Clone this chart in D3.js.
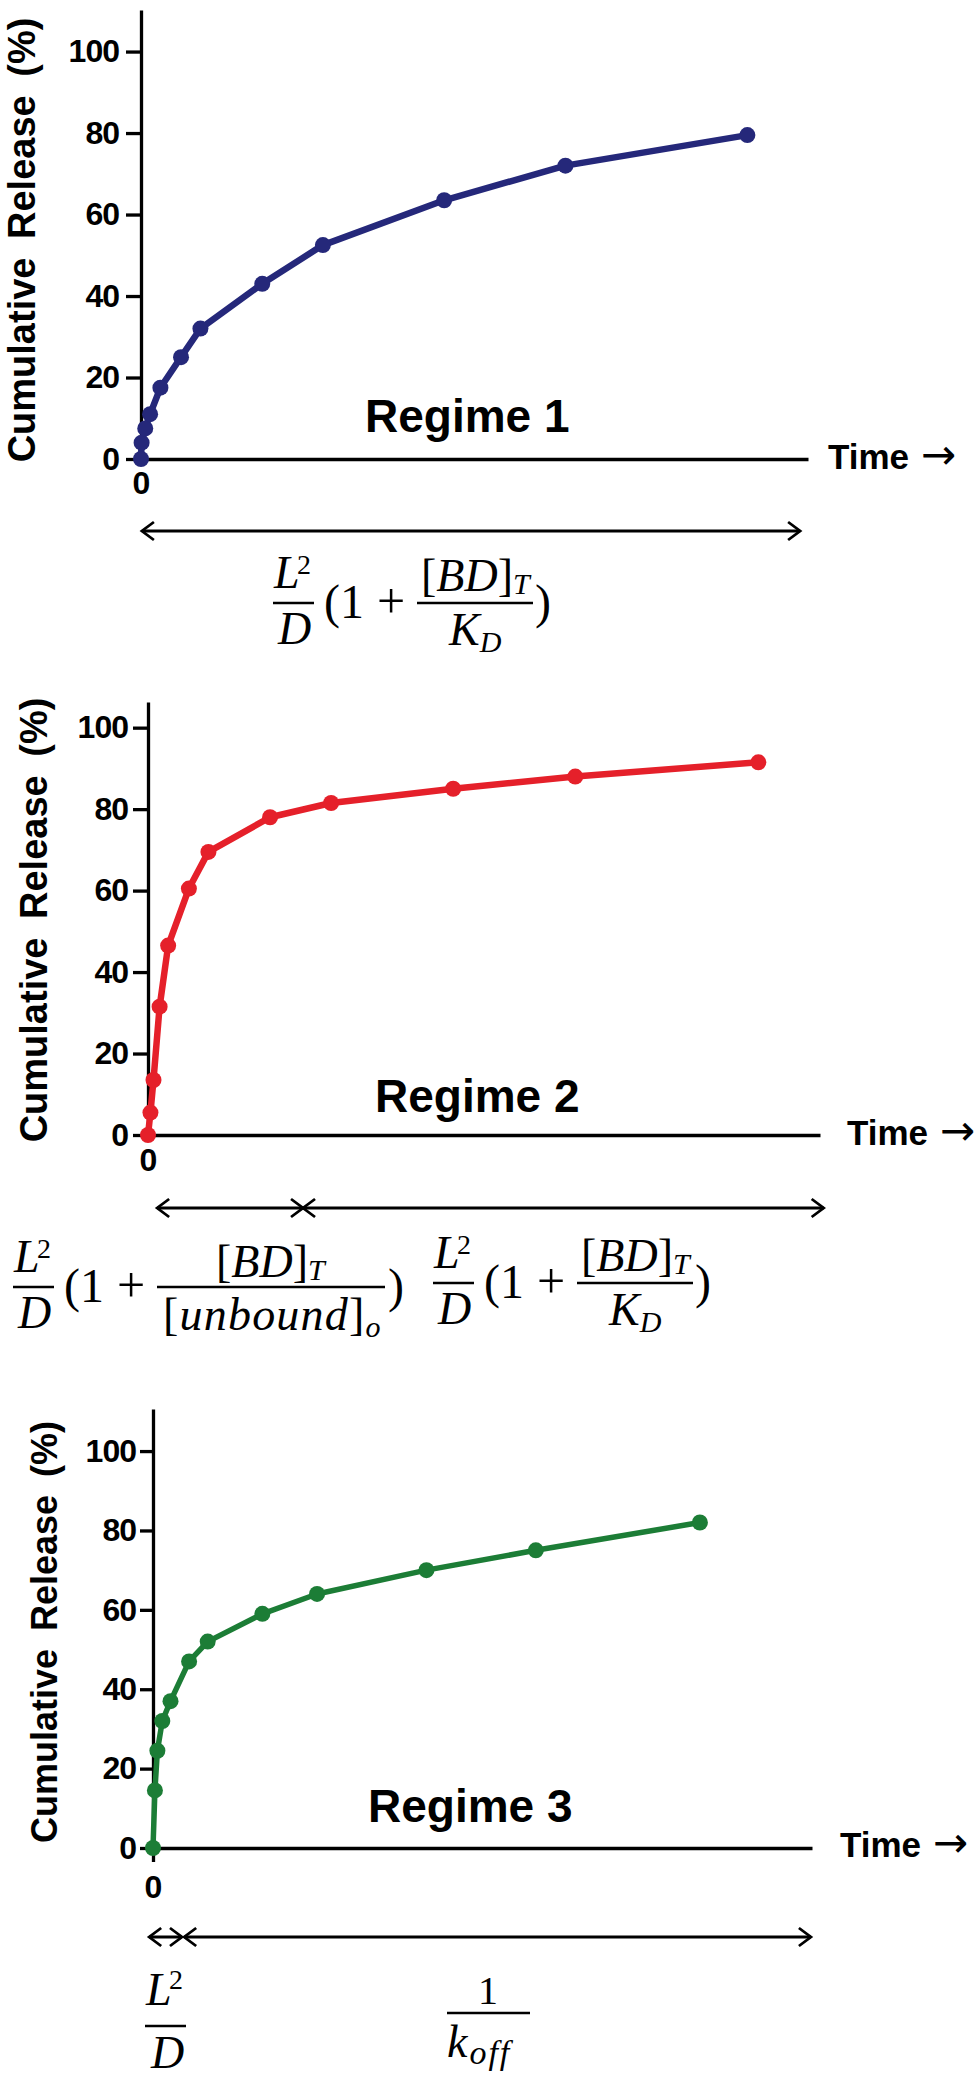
<!DOCTYPE html>
<html>
<head>
<meta charset="utf-8">
<script src="https://cdn.jsdelivr.net/npm/d3@7"></script>
<style>
  body { margin: 0; background: #fff; }
</style>
</head>
<body>
<div id="chart"></div>
<script>
// release curves (time in arbitrary units, release in %)
const times1 = [0, 0.1, 0.7, 1.5, 3.2, 6.6, 9.8, 20, 30, 50, 70, 100];
const release1 = [0, 4, 7.5, 11, 17.5, 25, 32, 43, 52.5, 63.5, 72, 79.5];
const times2 = [0, 0.4, 0.9, 1.9, 3.3, 6.7, 9.9, 20, 30, 50, 70, 100];
const release2 = [0, 5.5, 13.5, 31.5, 46.5, 60.5, 69.5, 78, 81.5, 85, 88, 91.5];
const times3 = [0, 0.35, 0.8, 1.7, 3.2, 6.6, 10, 20, 30, 50, 70, 100];
const release3 = [0, 14.5, 24.5, 32, 37, 47, 52, 59, 64, 70, 75, 82];
const yTicks = [0, 20, 40, 60, 80, 100];
const xTicks = [0];
const regimeNames = ["Regime 1", "Regime 2", "Regime 3"];
// time spans marked by the double arrows under each panel
const spans1 = [[0.15, 108.7]];
const spans2 = [[1.5, 25.4], [25.4, 110.7]];
const spans3 = [[-0.7, 5.3], [5.7, 120.3]];

// set the layout of the three panels
const panels = [
  {times: times1, values: release1, spans: spans1, color: "#25287a", name: regimeNames[0],
   left: 141, right: 808, top: 10, bottom: 459, xMax: 110, yMax: 110.2,
   tick: 15, pad: 7, xTick: 6, xPad: 6, lw: 6.5, r: 8,
   labelX: 35, labelY: 240, labelSize: 38, regimeX: 365, regimeY: 432, timeX: 828, timeY: 469, arrowY: 531},
  {times: times2, values: release2, spans: spans2, color: "#e5202a", name: regimeNames[1],
   left: 148, right: 820, top: 702, bottom: 1135, xMax: 110.1, yMax: 106.3,
   tick: 15, pad: 5, xTick: 6, xPad: 7, lw: 6.5, r: 8,
   labelX: 47, labelY: 920, labelSize: 38, regimeX: 375, regimeY: 1112, timeX: 847, timeY: 1145, arrowY: 1208},
  {times: times3, values: release3, spans: spans3, color: "#1c7d36", name: regimeNames[2],
   left: 153, right: 812, top: 1409, bottom: 1848, xMax: 120.5, yMax: 110.6,
   tick: 13, pad: 4, xTick: 14, xPad: 13, lw: 5.5, r: 8,
   labelX: 57, labelY: 1632, labelSize: 36, regimeX: 368, regimeY: 1822, timeX: 840, timeY: 1857, arrowY: 1937}
];

const svg = d3.select("#chart")
  .append("svg")
    .attr("width", 979)
    .attr("height", 2076);

const sans = "'Liberation Sans', Arial, sans-serif";
const serif = "'Liberation Serif', 'DejaVu Serif', serif";

panels.forEach(p => {
  const x = d3.scaleLinear().domain([0, p.xMax]).range([p.left, p.right]);
  const y = d3.scaleLinear().domain([0, p.yMax]).range([p.bottom, p.top]);
  const data = p.times.map((t, i) => ({t: t, v: p.values[i]}));
  const g = svg.append("g");

  // Y axis
  g.append("g")
    .attr("transform", `translate(${p.left},0)`)
    .call(d3.axisLeft(y).tickValues(yTicks).tickSize(p.tick).tickSizeOuter(0).tickPadding(p.pad))
    .call(a => a.selectAll("path,line").attr("stroke", "#000").attr("stroke-width", 3.3))
    .call(a => a.selectAll("text")
      .attr("font-family", sans).attr("font-size", 32).attr("font-weight", "bold")
      .attr("letter-spacing", -1).attr("fill", "#000"));

  // X axis
  g.append("g")
    .attr("transform", `translate(0,${p.bottom})`)
    .call(d3.axisBottom(x).tickValues(xTicks).tickSize(p.xTick).tickSizeOuter(0).tickPadding(p.xPad))
    .call(a => a.selectAll("path,line").attr("stroke", "#000").attr("stroke-width", 3.3))
    .call(a => a.selectAll("text")
      .attr("font-family", sans).attr("font-size", 32).attr("font-weight", "bold").attr("fill", "#000"));

  // Draw the line
  g.append("path")
    .datum(data)
    .attr("fill", "none")
    .attr("stroke", p.color)
    .attr("stroke-width", p.lw)
    .attr("stroke-linejoin", "round")
    .attr("d", d3.line().x(d => x(d.t)).y(d => y(d.v)));

  g.selectAll(".dot")
    .data(data)
    .join("circle")
      .attr("cx", d => x(d.t))
      .attr("cy", d => y(d.v))
      .attr("r", p.r)
      .attr("fill", p.color);

  // axis title
  g.append("text")
    .attr("transform", `translate(${p.labelX},${p.labelY}) rotate(-90)`)
    .attr("text-anchor", "middle")
    .attr("font-family", sans)
    .attr("font-weight", "bold")
    .attr("font-size", p.labelSize)
    .attr("word-spacing", 8)
    .text("Cumulative Release (%)");

  g.append("text")
    .attr("x", p.regimeX)
    .attr("y", p.regimeY)
    .attr("font-family", sans)
    .attr("font-weight", "bold")
    .attr("font-size", 46)
    .text(p.name);

  const tl = g.append("text")
    .attr("x", p.timeX)
    .attr("y", p.timeY)
    .attr("font-family", sans)
    .attr("font-size", 35);
  tl.append("tspan").attr("font-weight", "bold").text("Time");
  tl.append("tspan").attr("dx", 12).attr("font-family", "'DejaVu Sans', sans-serif")
    .attr("font-size", 42).attr("font-weight", "normal").text("\u2192");

  // double arrows for the time scales
  p.spans.forEach(s => {
    const x1 = x(s[0]), x2 = x(s[1]), ay = p.arrowY;
    g.append("line")
      .attr("x1", x1).attr("x2", x2).attr("y1", ay).attr("y2", ay)
      .attr("stroke", "#000").attr("stroke-width", 2.8);
    g.append("path")
      .attr("d", `M${x1 + 12},${ay - 9}L${x1},${ay}L${x1 + 12},${ay + 9}M${x2 - 12},${ay - 9}L${x2},${ay}L${x2 - 12},${ay + 9}`)
      .attr("fill", "none").attr("stroke", "#000").attr("stroke-width", 2.8);
  });
});

// formulas
function math(x, yb, pieces, size, anchor) {
  size = size || 46;
  const t = svg.append("text")
    .attr("x", x).attr("y", yb)
    .attr("font-family", serif)
    .attr("font-size", size)
    .attr("text-anchor", anchor || "start");
  pieces.forEach(pc => {
    t.append("tspan")
      .text(pc[0])
      .attr("font-style", pc[1] ? "italic" : "normal")
      .attr("font-size", pc[2] || size)
      .attr("dy", pc[3] || 0);
  });
  return t;
}
function bar(x1, x2, yb) {
  svg.append("line")
    .attr("x1", x1).attr("x2", x2).attr("y1", yb).attr("y2", yb)
    .attr("stroke", "#000").attr("stroke-width", 2.5);
}
function diffusion(x0, b) {
  math(x0 + 1, b - 15, [["L", 1]]);
  math(x0 + 24, b - 29, [["2", 0, 28]]);
  bar(x0, x0 + 41, b);
  math(x0 + 5, b + 41, [["D", 1]]);
  math(x0 + 51, b + 15, [["(", 0]], 48);
  math(x0 + 67, b + 15, [["1", 0]], 48);
  math(x0 + 118, b + 15, [["+", 0]], 50, "middle");
}
function formulaKD(x0, b) {
  diffusion(x0, b);
  bar(x0 + 144, x0 + 260, b);
  math(x0 + 148, b - 12, [["[", 0], ["BD", 1], ["]", 0], ["T", 1, 30, 3]]);
  math(x0 + 176, b + 42, [["K", 1], ["D", 1, 30, 7]]);
  math(x0 + 262, b + 15, [[")", 0]], 48);
}
function formulaUnbound(x0, b) {
  diffusion(x0, b);
  bar(x0 + 144, x0 + 372, b);
  math(x0 + 203, b - 10, [["[", 0], ["BD", 1], ["]", 0], ["T", 1, 30, 3]]);
  math(x0 + 150, b + 43, [["[", 0], ["unbound", 1], ["]", 0], ["o", 1, 30, 7]])
    .attr("letter-spacing", 1.2);
  math(x0 + 375, b + 15, [[")", 0]], 48);
}

formulaKD(273, 603);
formulaUnbound(13, 1287);
formulaKD(433, 1283);

// regime 3 time scales
math(146, 2005, [["L", 1]]);
math(169, 1989, [["2", 0, 28]]);
bar(145, 186, 2026);
math(151, 2068, [["D", 1]]);

math(488, 2004, [["1", 0]], 40, "middle");
bar(447, 530, 2013);
math(447, 2057, [["k", 1], ["off", 1, 34, 7]]).attr("letter-spacing", 2);
</script>
</body>
</html>
